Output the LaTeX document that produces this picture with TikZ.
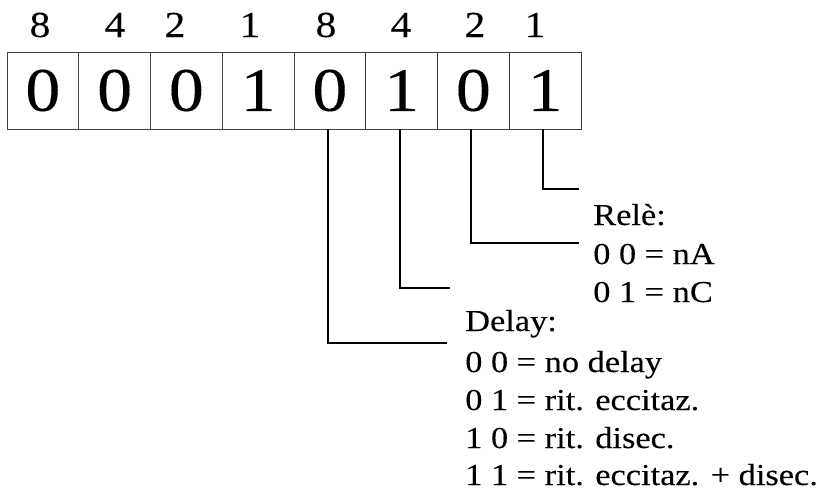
\documentclass[tikz,border=0pt]{standalone}
\usepackage{fontspec}
\setmainfont{Liberation Serif}[FakeStretch=1.13,FakeBold=0.2]
\begin{document}
\begin{tikzpicture}[x=0.75pt,y=-0.75pt,
  cell/.style={draw=black!75, line width=0.7pt, minimum width=53.81pt,
    minimum height=57.75pt, inner sep=0pt, font=\fontsize{46.5}{50}\selectfont},
  bitlabel/.style={anchor=base, inner sep=0pt, font=\fontsize{27.5}{30}\selectfont},
  conn/.style={line width=1.4pt},
  txt/.style={anchor=base west, inner sep=0pt, font=\fontsize{22.8}{27}\selectfont}]
\useasboundingbox (0,0) rectangle (818,500);
% cells
\foreach \i/\v in {1/0,2/0,3/0,4/1,5/0,6/1,7/0,8/1}{
  \node[cell] (c\i) at ({7+(\i-0.5)*71.75},90.5) {\v};
}
% weights
\node[bitlabel] (w1) at (40,37) {8};
\node[bitlabel] (w2) at (115,37) {4};
\node[bitlabel] (w3) at (175,37) {2};
\node[bitlabel] (w4) at (250,37) {1};
\node[bitlabel] (w5) at (326,37) {8};
\node[bitlabel] (w6) at (401,37) {4};
\node[bitlabel] (w7) at (475,37) {2};
\node[bitlabel] (w8) at (535,37) {1};
% connector ends
\coordinate (e5) at (447,343);
\coordinate (e6) at (450,288);
\coordinate (e7) at (579,243);
\coordinate (e8) at (579,189);
\draw[conn] ([xshift=-1.5pt]c5.south) |- (e5);
\draw[conn] ([xshift=-1.5pt]c6.south) |- (e6);
\draw[conn] ([xshift=-1.5pt]c7.south) |- (e7);
\draw[conn] ([xshift=-1.5pt]c8.south) |- (e8);
% texts
\node[txt] (r0) at (593,225) {Relè:};
\node[txt] (r1) at (593,264) {0 0 = nA};
\node[txt] (r2) at (593,302) {0 1 = nC};
\node[txt] (d0) at (465,331) {Delay:};
\node[txt] (d1) at (465,372) {0 0 = no delay};
\node[txt] (d2) at (465,410) {0 1 = rit. eccitaz.};
\node[txt] (d3) at (465,448) {1 0 = rit. disec.};
\node[txt] (d4) at (465,485) {1 1 = rit. eccitaz. + disec.};
\end{tikzpicture}
\end{document}
